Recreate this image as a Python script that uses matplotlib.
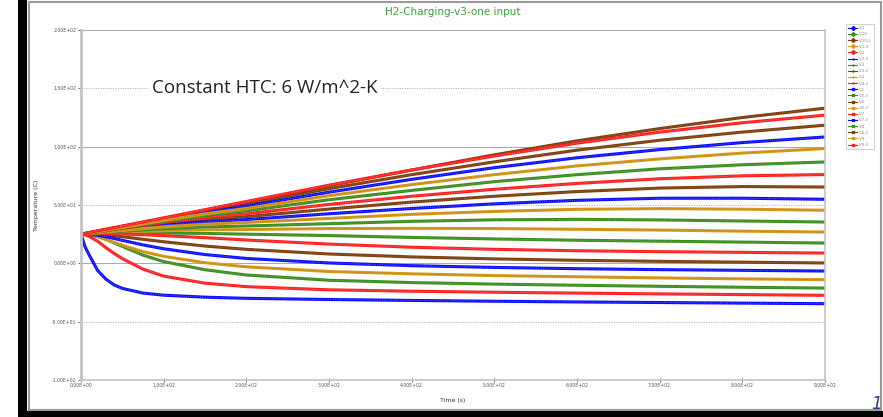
import matplotlib
matplotlib.use("Agg")
import matplotlib.pyplot as plt
from matplotlib.ticker import MultipleLocator, FuncFormatter
from matplotlib.patches import Rectangle
from matplotlib.lines import Line2D

# time grid (s)
t = [0, 5, 10, 20, 30, 40, 50, 75, 100, 150, 200, 300, 400, 500, 600, 700, 800, 900]

# temperatures (C)
v1   = [25, 14, 7, -6, -13.5, -18.5, -21.5, -25.5, -27.3, -29, -30, -31, -31.8, -32.5, -33.1, -33.6, -34.1, -34.6]
v10  = [25, 24.9, 24.5, 23, 20.5, 17.5, 14.5, 7, 1.5, -5.5, -10, -14.5, -16.5, -17.8, -18.8, -19.7, -20.5, -21.2]
v10_2 = [25, 25.1, 25.1, 24.8, 24.3, 23.6, 22.8, 20.6, 18.5, 14.8, 12, 8, 5.5, 3.8, 2.6, 1.7, 1, 0.3]
v1_3 = [25, 25, 24.5, 23, 20.5, 18, 15.5, 10, 6, 0.5, -3, -7, -9, -10.5, -11.5, -12.5, -13.3, -14]
v2   = [25, 24.4, 23, 19, 13.5, 8.5, 4, -5, -11, -17, -20, -22.7, -23.9, -24.8, -25.5, -26.2, -26.8, -27.4]
v2_3 = [25, 25, 24.8, 24, 22.8, 21.3, 19.7, 15.8, 12.5, 7.5, 4.2, 0.3, -2, -3.5, -4.6, -5.4, -6, -6.6]
v3   = [25, 25.1, 25.3, 25.5, 25.7, 25.9, 26, 26.1, 26, 25.6, 25, 23.8, 22.2, 20.9, 19.8, 19, 18.2, 17.4]
v3_2 = [25, 25.4, 25.8, 26.6, 27.5, 28.5, 29.4, 31.7, 34, 37.5, 40, 46.5, 52.5, 57.5, 61.5, 64.5, 65.8, 65.4]
v4   = [25, 25.2, 25.4, 25.8, 26.1, 26.5, 26.8, 27.5, 28, 28.7, 29, 29.8, 30, 29.8, 29.2, 28.5, 27.6, 26.8]
v4_2 = [25, 25.1, 25.2, 25.3, 25.3, 25.2, 25.1, 24.5, 23.7, 22, 20, 16.5, 13.8, 12, 10.8, 10, 9.4, 8.8]
v5   = [25, 25.3, 25.7, 26.4, 27.2, 28, 28.8, 30.8, 32.7, 35.5, 37.5, 42.5, 47, 51, 54, 55.8, 55.8, 54.9]
v5_3 = [25, 25.2, 25.5, 26, 26.5, 27, 27.5, 28.7, 29.7, 31.2, 32, 34, 36, 37.3, 37.7, 37.2, 36.3, 35.4]
v6   = [25, 25.6, 26.3, 27.6, 28.9, 30.3, 31.6, 34.9, 38.2, 44.8, 51, 64, 76, 87, 97, 105.5, 112.5, 118.4]
v6_3 = [25, 25.3, 25.6, 26.2, 26.9, 27.5, 28.2, 29.8, 31.3, 33.5, 35, 38.5, 42, 44.5, 46.3, 46.9, 46.4, 45.5]
v7   = [25, 25.4, 25.9, 26.8, 27.9, 29, 30, 32.5, 35, 39.3, 42.5, 50.5, 57.5, 63.5, 68.5, 72.5, 75, 76.1]
v7_3 = [25, 25.6, 26.2, 27.4, 28.7, 30, 31.2, 34.4, 37.5, 43.6, 49, 61, 72, 82, 90.5, 97.5, 103.5, 108.3]
v8   = [25, 25.5, 26, 27, 28.1, 29.3, 30.4, 33.2, 36, 41, 45, 54.5, 62.5, 70, 76, 81, 84.5, 86.9]
v8_3 = [25, 25.6, 26.3, 27.6, 29, 30.4, 31.8, 35.2, 38.6, 45.6, 52.5, 66.5, 80, 93, 105, 115.5, 125, 133]
v9   = [25, 25.5, 26.1, 27.2, 28.4, 29.6, 30.8, 33.8, 36.8, 42.4, 47, 58, 67.5, 76, 83.5, 89.5, 94.5, 98.4]
v9_3 = [25, 25.7, 26.4, 27.8, 29.2, 30.6, 32, 35.5, 39, 46, 53, 67, 80, 92, 103, 112.5, 120.5, 127]

labels = ['V-1', 'V-10', 'V-10-2', 'V-1-3', 'V-2', 'V-2-3', 'V-3', 'V-3-2', 'V-4', 'V-4-2',
          'V-5', 'V-5-3', 'V-6', 'V-6-3', 'V-7', 'V-7-3', 'V-8', 'V-8-3', 'V-9', 'V-9-3']
series = [v1, v10, v10_2, v1_3, v2, v2_3, v3, v3_2, v4, v4_2,
          v5, v5_3, v6, v6_3, v7, v7_3, v8, v8_3, v9, v9_3]

cols = ['#0a0aff', '#3b8c1e', '#7c3e0c', '#d79a1e', '#ff1e1e']
dots = ['#8c8cff', '#8cc070', '#b88050', '#a87010', '#ff9090']
marks = ['D', '+', 's', 'x', 'o']

fig = plt.figure(figsize=(8.83, 4.17), dpi=100)
W, H = 883.0, 417.0

# slide background bits
fig.patches.append(Rectangle((18 / W, 0), 9 / W, 1, transform=fig.transFigure,
                             facecolor='black', edgecolor='none', zorder=0))
fig.patches.append(Rectangle((18 / W, 0), 1, 6 / H, transform=fig.transFigure,
                             facecolor='black', edgecolor='none', zorder=0))
fig.patches.append(Rectangle((29 / W, 7 / H), 852 / W, 408 / H, transform=fig.transFigure,
                             facecolor='white', edgecolor='#9a9a9a', lw=1.5, zorder=0))

ax = fig.add_axes([81 / W, 1 - 380 / H, 744 / W, 350 / H])
ax.set_zorder(3)
ax.patch.set_alpha(0)

for i, (lab, y) in enumerate(zip(labels, series)):
    ax.plot(t, y, color=cols[i % 5], lw=2.2, solid_capstyle='butt', label=lab)
    # the beaded look of the densely marked lines
    ax.plot(t, y, color=dots[i % 5], lw=0.7, ls=(0, (0.8, 1.6)), alpha=0.8)

ax.set_xlim(0, 900)
ax.set_ylim(-100, 200)
ax.xaxis.set_major_locator(MultipleLocator(100))
ax.yaxis.set_major_locator(MultipleLocator(50))
fmt = FuncFormatter(lambda v, p: f"{v:.2E}")
ax.xaxis.set_major_formatter(fmt)
ax.yaxis.set_major_formatter(fmt)
ax.tick_params(labelsize=3.3, colors='#555555', length=2.5, width=0.6, pad=1)
ax.tick_params(axis='x', direction='inout', length=3)

for yv in [-100, 0, 100, 200]:
    ax.axhline(yv, color='#a8a8a8', lw=0.7, zorder=0)
for yv in [-50, 50, 150]:
    ax.axhline(yv, color='#a8a8a8', lw=0.7, ls=(0, (1, 1.5)), zorder=0)

for s in ['left', 'bottom', 'right']:
    ax.spines[s].set_color('#c4c4c4')
ax.spines['left'].set_linewidth(2)
ax.spines['bottom'].set_linewidth(1.2)
ax.spines['right'].set_linewidth(1.2)
ax.spines['top'].set_visible(False)

ax.set_xlabel('Time (s)', fontsize=4.5, color='#333333', labelpad=7)
ax.set_ylabel('Temperature (C)', fontsize=4.5, color='#333333', labelpad=9)
fig.text(453 / W, 1 - 12 / H, 'H2-Charging-v3-one input', color='#3a9e3a',
         fontsize=7.5, ha='center', va='center', zorder=5)

ax.text(222, 150, 'Constant HTC: 6 W/m^2-K', fontsize=13.5, family='Open Sans',
        color='#222222', ha='center', va='center',
        bbox=dict(facecolor='white', edgecolor='none', pad=3), zorder=5)

handles = [Line2D([0], [0], color=cols[i % 5], lw=0.8, marker=marks[(i // 5) % 5],
                  markersize=2) for i in range(len(labels))]
leg = fig.legend(handles, labels, loc='upper left', bbox_to_anchor=(844 / W, 1 - 22 / H),
                 fontsize=2.8, handlelength=2.2, labelspacing=0.55, borderpad=0.6,
                 handletextpad=0.6, frameon=True, fancybox=False)
leg.set_zorder(5)
leg.get_frame().set_edgecolor('#bbbbbb')
leg.get_frame().set_linewidth(0.6)
for txt in leg.get_texts():
    txt.set_color('#888888')

fig.text(876 / W, 1 - 404 / H, '1', color='#2b3a8c', fontsize=12, style='italic',
         ha='center', va='center', zorder=10)

fig.savefig('out.png', dpi=100)
